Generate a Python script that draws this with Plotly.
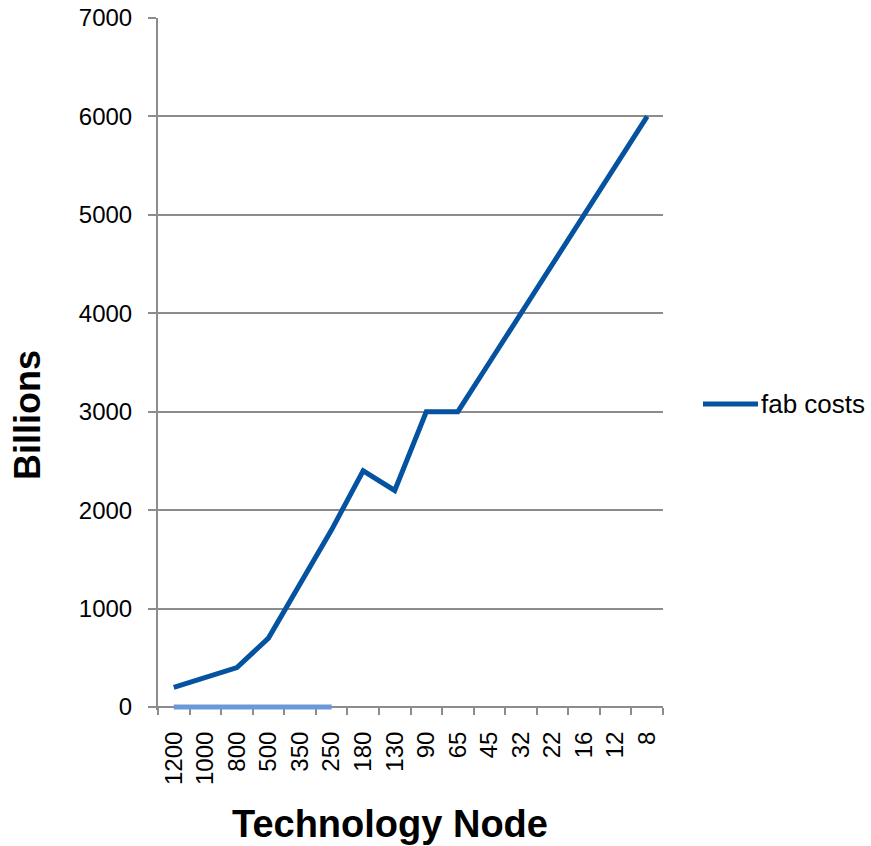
import plotly.graph_objects as go

# Technology nodes (nm) and fab cost per node
nodes = ["1200", "1000", "800", "500", "350", "250", "180", "130",
         "90", "65", "45", "32", "22", "16", "12", "8"]
fab_costs = [200, 300, 400, 700, 1250, 1800, 2400, 2200,
             3000, 3000, 3500, 4000, 4500, 5000, 5500, 6000]

# Baseline series covering the early nodes
base_nodes = ["1200", "1000", "800", "500", "350", "250"]
base_values = [0, 0, 0, 0, 0, 0]

y_ticks = [0, 1000, 2000, 3000, 4000, 5000, 6000, 7000]
Y_MAX = 7000

DARK_BLUE = "#0452A0"
LIGHT_BLUE = "#6A98D8"
GRID = "#8C8C8C"
FONT = "Liberation Sans, Arial, sans-serif"

# Plot area geometry (px); the value axis starts a few px below zero so the
# baseline stroke is not clipped by the plotting area.
TOP, ZERO_PX, BOTTOM = 18, 707, 710
HEIGHT = 846
units_per_px = Y_MAX / (ZERO_PX - TOP)
y_min = -(BOTTOM - ZERO_PX) * units_per_px
area_h = BOTTOM - TOP


def py(px):
    """Paper y coordinate for a pixel row."""
    return (BOTTOM - px) / area_h


fig = go.Figure()

fig.add_trace(go.Scatter(
    x=nodes, y=fab_costs, mode="lines", name="fab costs",
    line=dict(color=DARK_BLUE, width=5), showlegend=False,
))
fig.add_trace(go.Scatter(
    x=base_nodes, y=base_values, mode="lines", name="",
    line=dict(color=LIGHT_BLUE, width=5), showlegend=False,
))

# Legend entry: line sample plus label
fig.add_shape(type="line", xref="paper", yref="paper",
              x0=1.0792, x1=1.1881, y0=py(404), y1=py(404),
              line=dict(color=DARK_BLUE, width=5))
fig.add_annotation(text="fab costs", xref="paper", yref="paper",
                   x=1.19, y=py(404), xanchor="left", yanchor="middle",
                   showarrow=False, font=dict(family=FONT, size=26, color="#000"))

# Axis titles
fig.add_annotation(text="<b>Billions</b>", xref="paper", yref="paper",
                   x=-0.2594, y=py(415), xanchor="center", yanchor="middle",
                   textangle=-90, showarrow=False,
                   font=dict(family=FONT, size=36, color="#000"))
fig.add_annotation(text="<b>Technology Node</b>", xref="paper", yref="paper",
                   x=0.4594, y=py(824), xanchor="center", yanchor="middle",
                   showarrow=False,
                   font=dict(family=FONT, size=38, color="#000"))

fig.update_layout(
    width=871, height=HEIGHT,
    margin=dict(l=158, r=208, t=TOP, b=HEIGHT - BOTTOM),
    paper_bgcolor="white", plot_bgcolor="white",
    font=dict(family=FONT, size=24, color="#000"),
    showlegend=False,
)
fig.update_xaxes(
    type="category", categoryorder="array", categoryarray=nodes,
    range=[-0.5, len(nodes) - 0.5],
    anchor="free", position=py(ZERO_PX),
    tickangle=-90, tickson="boundaries", ticks="outside", ticklen=7,
    tickwidth=2, tickcolor=GRID, ticklabelstandoff=14,
    showline=True, linecolor=GRID, linewidth=2,
    showgrid=False, zeroline=False, layer="below traces",
    automargin=False,
    tickfont=dict(family=FONT, size=24, color="#000"),
)
fig.update_yaxes(
    range=[y_min, Y_MAX], tickvals=y_ticks, ticktext=[str(v) for v in y_ticks],
    ticks="outside", ticklen=8, tickwidth=2, tickcolor=GRID,
    ticklabelstandoff=11,
    showline=True, linecolor=GRID, linewidth=2,
    showgrid=True, gridcolor=GRID, gridwidth=2,
    zeroline=False, automargin=False,
    tickfont=dict(family=FONT, size=24, color="#000"),
)

fig.write_html("out.html")
